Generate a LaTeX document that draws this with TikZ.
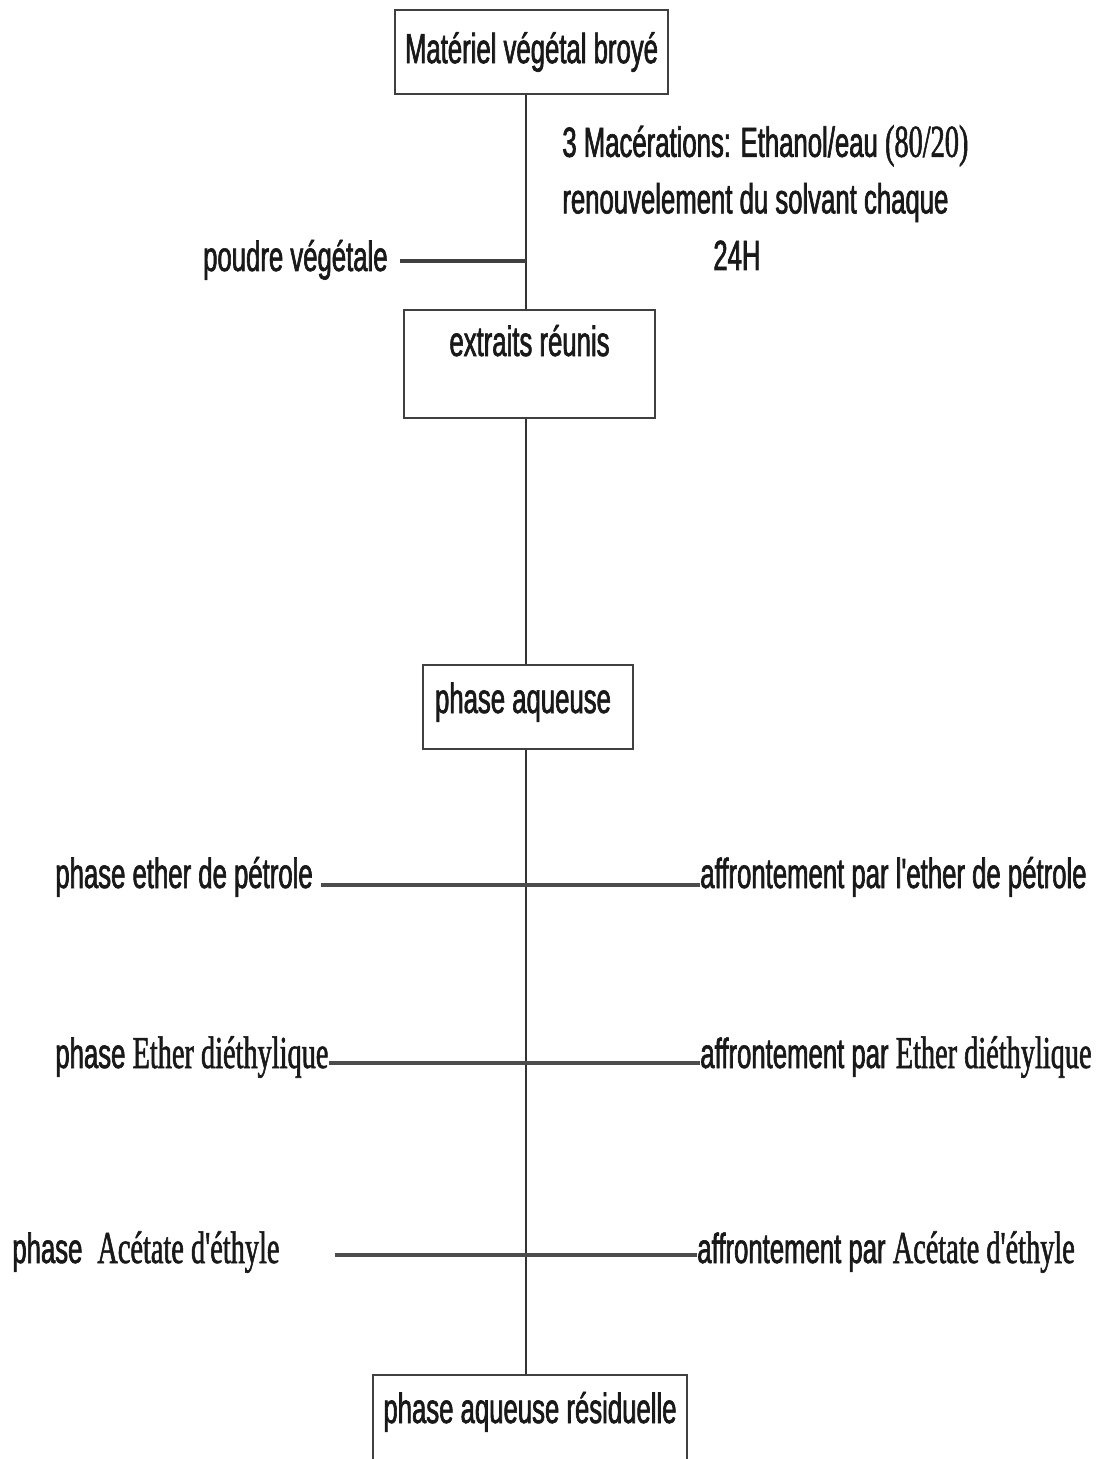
\documentclass[tikz,border=0pt]{standalone}
\usepackage{fontspec}
\newfontfamily\narrowsf[FakeStretch=0.61, FakeBold=1.5]{Liberation Sans}
\newfontfamily\narrowrm[FakeStretch=0.62, FakeBold=1.2]{Liberation Serif}
\usetikzlibrary{positioning}

\begin{document}
\begin{tikzpicture}[
    x=0.02cm, y=-0.02cm,
    spine/.style={draw=black!80, line width=0.9pt},
    bar/.style={draw=black!70, line width=2.2pt},
    thickbar/.style={draw=black!75, line width=2.8pt},
    box/.style={
        rectangle, draw=black!75, line width=1.4pt, fill=white,
        inner sep=0pt, align=center, text=black!90,
        font=\narrowsf\fontsize{24}{28}\selectfont
    },
    lbl/.style={inner sep=0pt, text=black!90, font=\narrowsf\fontsize{24}{28}\selectfont}
]

% ---------------- Frame ----------------
\useasboundingbox (0,0) rectangle (1109,1459);
\fill[white] (0,0) rectangle (1109,1459);
\clip (0,0) rectangle (1109,1459);
\coordinate (axis) at (526,0);

% ---------------- Boxes ----------------
\node[box, minimum width=5.46cm, minimum height=1.68cm] (mat) at (531.5,52) {Matériel végétal broyé};
\node[box, minimum width=5.02cm, minimum height=2.16cm, text height=0.92cm, text depth=1.24cm] (extr) at (529.5,364) {extraits réunis};
\node[box, minimum width=4.2cm, minimum height=1.68cm, text height=0.96cm, text depth=0.72cm] (aq) at (528,707) {phase aqueuse\hspace*{0.2cm}};
\node[box, minimum width=6.28cm, minimum height=2.5cm, text height=0.96cm, text depth=1.54cm] (res) at (530,1437.5) {phase aqueuse résiduelle};

\draw[spine] (mat.south -| axis) -- (extr.north -| axis);
\draw[spine] (extr.south -| axis) -- (aq.north -| axis);
\draw[spine] (aq.south -| axis) -- (res.north -| axis);

% ---------------- Maceration ----------------
\node[lbl, anchor=base west, align=left, font=\narrowsf\fontsize{24}{32.2}\selectfont] (mac) at (562,270)
    {3 Macérations: Ethanol/eau {\narrowrm\fontsize{26}{28}\selectfont(80/20)}\\
     renouvelement du solvant chaque\\
     \hspace*{3.02cm}24H};
\node[lbl, anchor=base east] (poudre) at (388,271) {poudre végétale};
\draw[thickbar] ([xshift=0.24cm, yshift=0.2cm]poudre.base east) -- ([yshift=0.2cm]poudre.base east -| axis);

% ---------------- Partitions ----------------
\node[lbl, anchor=base west] (phep)  at (55,888)  {phase ether de pétrole};
\node[lbl, anchor=base west] (affep) at (700,888) {affrontement par l'ether de pétrole};
\node[lbl, anchor=base west] (phed)  at (55,1068) {phase {\narrowrm\fontsize{26}{28}\selectfont Ether diéthylique}};
\node[lbl, anchor=base west] (affed) at (700,1068) {affrontement par {\narrowrm\fontsize{26}{28}\selectfont Ether diéthylique}};
\node[lbl, anchor=base west] (phac)  at (12,1263) {phase\hspace{0.3cm}{\narrowrm\fontsize{26}{28}\selectfont Acétate d'éthyle}};
\node[lbl, anchor=base west] (affac) at (697,1263) {affrontement par {\narrowrm\fontsize{26}{28}\selectfont Acétate d'éthyle}};

\draw[bar] ([xshift=0.16cm, yshift=0.06cm]phep.base east) -- ([yshift=0.06cm]phep.base east -| affep.west);
\draw[bar] ([yshift=0.1cm]phed.base east) -- ([yshift=0.1cm]phed.base east -| affed.west);
\draw[bar] ([xshift=1.1cm, yshift=0.16cm]phac.base east) -- ([yshift=0.16cm]phac.base east -| affac.west);

\end{tikzpicture}
\end{document}
